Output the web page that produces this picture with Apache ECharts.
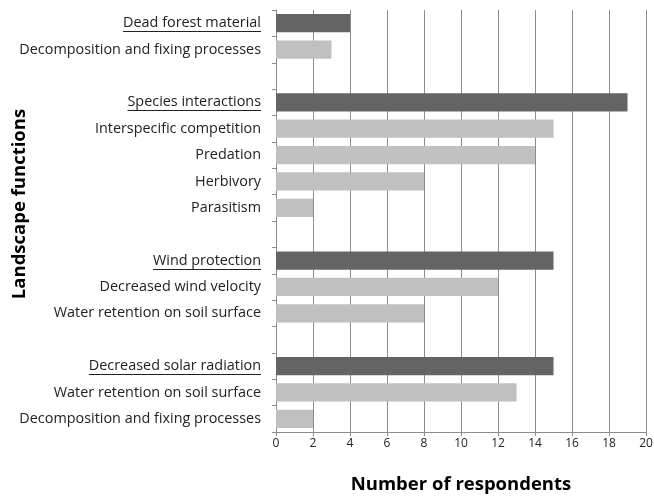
<!DOCTYPE html>
<html>
<head>
<meta charset="utf-8">
<script src="https://cdn.jsdelivr.net/npm/echarts@6/dist/echarts.min.js"></script>
<style>
  html, body { margin: 0; padding: 0; background: #fff; }
  #main { width: 654px; height: 496px; }
</style>
</head>
<body>
<div id="main"></div>
<script>
// categories top to bottom, '' = spacer row between groups
const labels = [
  'Dead forest material',
  'Decomposition and fixing processes',
  '',
  'Species interactions',
  'Interspecific competition',
  'Predation',
  'Herbivory',
  'Parasitism',
  '',
  'Wind protection',
  'Decreased wind velocity',
  'Water retention on soil surface',
  '',
  'Decreased solar radiation',
  'Water retention on soil surface',
  'Decomposition and fixing processes'
]
// group heading rows (underlined, dark bar)
const headers = [1, 0, 0, 1, 0, 0, 0, 0, 0, 1, 0, 0, 0, 1, 0, 0]
const values = [4, 3, null, 19, 15, 14, 8, 2, null, 15, 12, 8, null, 15, 13, 2]
const xTicks = [0, 2, 4, 6, 8, 10, 12, 14, 16, 18, 20]

const FONT = '"Open Sans", sans-serif'
const LABEL_SIZE = 14.4
const chart = echarts.init(document.getElementById('main'))

const option = {
  animation: false,
  grid: { left: 276, right: 8, top: 10, bottom: 64, containLabel: false, outerBoundsMode: 'none' },
  xAxis: {
    type: 'value',
    min: xTicks[0],
    max: xTicks[xTicks.length - 1],
    interval: xTicks[1] - xTicks[0],
    name: 'Number of respondents',
    nameLocation: 'middle',
    nameGap: 43,
    nameMoveOverlap: false,
    nameTextStyle: { fontFamily: FONT, fontSize: 18.5, fontWeight: 'bold', color: '#000' },
    axisLine: { show: true, lineStyle: { color: '#8c8c8c' } },
    axisTick: { show: true, length: 4, lineStyle: { color: '#8c8c8c' } },
    axisLabel: { fontFamily: FONT, fontSize: 12, color: '#222', margin: 6 },
    splitLine: { show: true, lineStyle: { color: '#8c8c8c', width: 1 } }
  },
  yAxis: {
    type: 'category',
    data: labels,
    inverse: true,
    name: 'Landscape functions',
    nameLocation: 'middle',
    nameGap: 247,
    nameRotate: 90,
    nameMoveOverlap: false,
    nameTextStyle: {
      fontFamily: FONT, fontSize: 18.5, fontWeight: 'bold', color: '#000',
      padding: [0, 0, 0, 34]
    },
    axisLine: { show: true, lineStyle: { color: '#8c8c8c' } },
    axisTick: { show: true, length: 4, lineStyle: { color: '#8c8c8c' } },
    axisLabel: { fontFamily: FONT, fontSize: LABEL_SIZE, color: '#222', margin: 15, interval: 0 },
    splitLine: { show: false }
  },
  series: [{
    type: 'bar',
    barCategoryGap: '31%',
    data: values.map((v, i) => ({
      value: v,
      itemStyle: { color: headers[i] ? '#646464' : '#c0c0c0' }
    }))
  }]
}
chart.setOption(option)

// underline the group headings under their axis labels
const ctx = document.createElement('canvas').getContext('2d')
ctx.font = LABEL_SIZE + 'px ' + FONT
const axisX = chart.convertToPixel({ xAxisIndex: 0 }, 0)
const right = axisX - 15
const lines = []
labels.forEach((name, i) => {
  if (!headers[i]) return
  const y = Math.round(chart.convertToPixel({ yAxisIndex: 0 }, i)) + 8.5
  const w = ctx.measureText(name).width
  lines.push({
    type: 'line',
    silent: true,
    shape: { x1: right - w, y1: y, x2: right, y2: y },
    style: { stroke: '#222', lineWidth: 1 }
  })
})
chart.setOption({ graphic: lines })
</script>
</body>
</html>
